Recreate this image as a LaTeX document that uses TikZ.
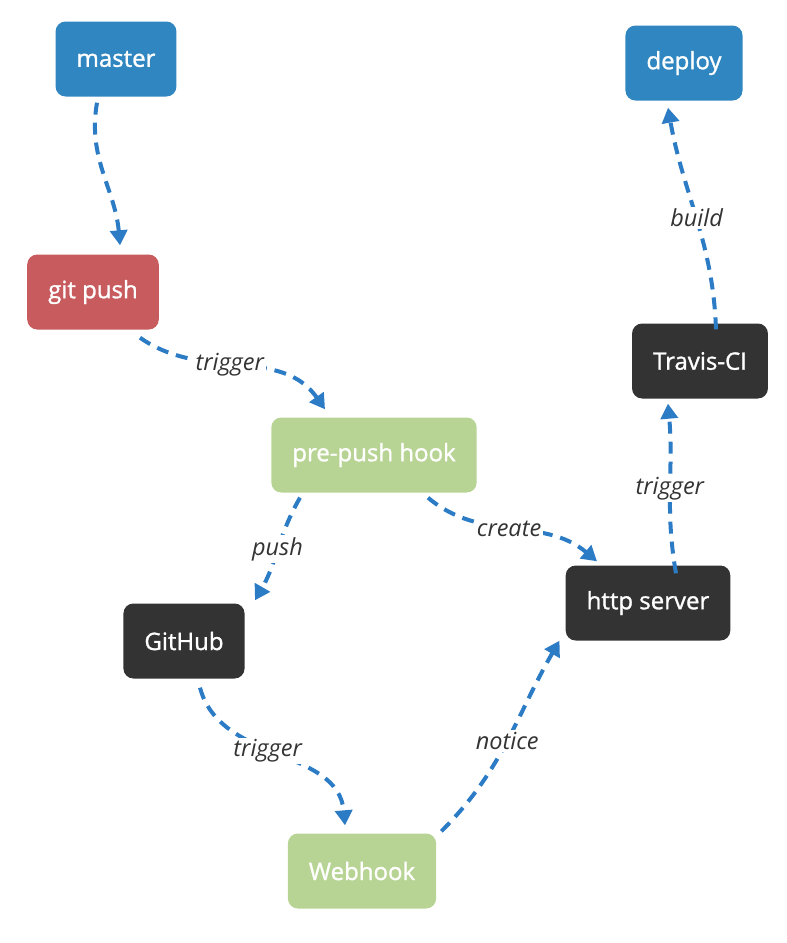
\documentclass[tikz,border=0pt]{standalone}
\usepackage{fontspec}
\setmainfont{Open Sans}
\newfontfamily\boxfont{Open Sans}[FakeBold=1.2]
\usetikzlibrary{arrows.meta}
\definecolor{boxblue}{HTML}{2F86C1}
\definecolor{boxred}{HTML}{C75B5E}
\definecolor{boxgreen}{HTML}{B8D494}
\definecolor{boxdark}{HTML}{333333}
\definecolor{arrowblue}{HTML}{2B7BC5}
\definecolor{labelgray}{HTML}{333333}
\tikzset{
  box/.style={rounded corners=10pt, minimum height=75pt, inner xsep=21pt, text=white, font=\boxfont\fontsize{24}{27}\selectfont},
  flow/.style={draw=arrowblue, line width=4pt, dash pattern=on 12pt off 8pt, -{Triangle[width=17pt,length=15pt]}},
  lbl/.style={fill=white, text=labelgray, font=\fontsize{23.5}{26}\selectfont\itshape, inner sep=2pt},
}
\begin{document}
\begin{tikzpicture}[x=1pt,y=-1pt]
\useasboundingbox (0,0) rectangle (787,943);
\node [box, fill=boxblue] (master) at (116,59) {master};
\node [box, fill=boxblue] (deploy) at (684,63) {deploy};
\node [box, fill=boxred] (gitpush) at (93,292) {git push};
\node [box, fill=boxdark] (travis) at (700,361) {Travis-CI};
\node [box, fill=boxgreen] (prepush) at (374,455) {pre-push hook};
\node [box, fill=boxdark] (http) at (648,603) {http server};
\node [box, fill=boxdark] (github) at (184,641) {GitHub};
\node [box, fill=boxgreen] (webhook) at (362,871) {Webhook};
\draw [flow] ([xshift=-19pt,yshift=-6pt]master.south) to [out=-100,in=95] ([xshift=27pt,yshift=9pt]gitpush.north);
\draw [flow] ([xshift=47pt,yshift=-8pt]gitpush.south) to [out=-35,in=125] node [lbl, pos=0.45] {trigger} ([xshift=-49pt,yshift=8pt]prepush.north);
\draw [flow] ([xshift=-74pt,yshift=-5pt]prepush.south) to [out=-120,in=60] node [lbl, pos=0.5] {push} ([xshift=71pt,yshift=3pt]github.north);
\draw [flow] ([xshift=54pt,yshift=-5pt]prepush.south) to [out=-40,in=140] node [lbl, pos=0.48] {create} ([xshift=-51pt,yshift=4pt]http.north);
\draw [flow] ([xshift=16pt,yshift=-9pt]github.south) to [out=-75,in=95] node [lbl, pos=0.45] {trigger} ([xshift=-17pt,yshift=8pt]webhook.north);
\draw [flow] ([xshift=5pt,yshift=2pt]webhook.north east) to [out=45,in=-120] node [lbl, pos=0.5] {notice} ([xshift=-6pt,yshift=0pt]http.south west);
\draw [flow] ([xshift=28pt,yshift=-8pt]http.north) to [out=100,in=-85] node [lbl, pos=0.5] {trigger} ([xshift=-32pt,yshift=-5pt]travis.south);
\draw [flow] ([xshift=16pt,yshift=-6pt]travis.north) to [out=92,in=-80] node [lbl, pos=0.5] {build} ([xshift=-16pt,yshift=-7pt]deploy.south);
\end{tikzpicture}
\end{document}
